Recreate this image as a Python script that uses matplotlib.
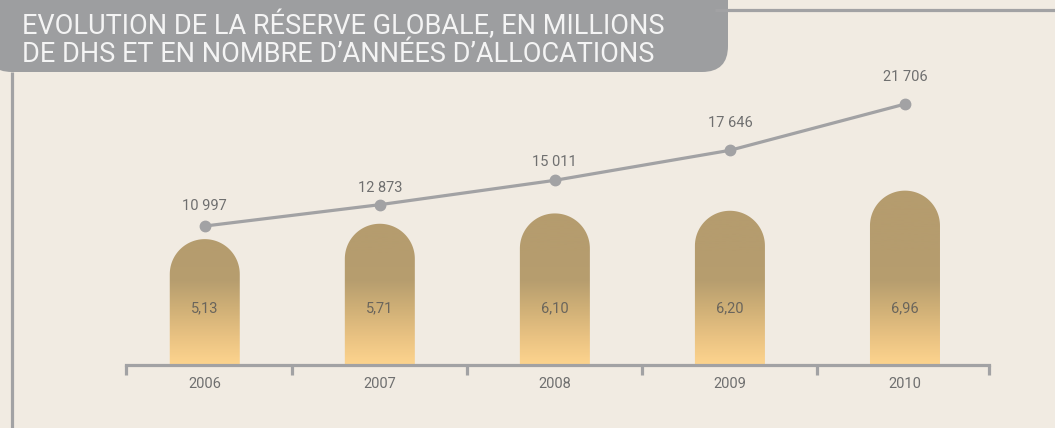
import numpy as np
from matplotlib import pyplot as plt
from matplotlib.colors import LinearSegmentedColormap
from matplotlib.patches import Polygon, FancyBboxPatch
from matplotlib.transforms import blended_transform_factory

years = ['2006', '2007', '2008', '2009', '2010']
reserve = [10997, 12873, 15011, 17646, 21706]      # millions de DHS (ligne)
annees = [5.13, 5.71, 6.10, 6.20, 6.96]            # nombre d'annees d'allocations (barres)
title = "EVOLUTION DE LA RÉSERVE GLOBALE, EN MILLIONS\nDE DHS ET EN NOMBRE D’ANNÉES D’ALLOCATIONS"

bg = '#f1ebe2'
grey = '#a2a2a4'
txt = '#6f6f6f'
plt.rcParams['font.family'] = ['Roboto', 'DejaVu Sans']

W, H = 1055, 428
fig = plt.figure(figsize=(W / 100, H / 100), dpi=100, facecolor=bg)

# decoration layer in pixel coords
deco = fig.add_axes([0, 0, 1, 1])
deco.set_xlim(0, W)
deco.set_ylim(H, 0)
deco.axis('off')
deco.add_patch(FancyBboxPatch((-14, -40), 742, 112, boxstyle='round,pad=0,rounding_size=26',
                              fc='#9d9ea0', ec='none'))
deco.plot([715, W], [9.5, 9.5], color=grey, lw=2.3, solid_capstyle='butt')
deco.plot([12, 12], [72, H], color=grey, lw=2.3, solid_capstyle='butt')
deco.text(22, 39, title, color='#f4f4f4', fontsize=19.5,
          va='center', ha='left', linespacing=1.05)

# bar axes (annees)
x = np.arange(len(years))
y0, pxu = 0.38, 26.5
ax = fig.add_axes([126 / W, 63 / H, 863 / W, 365 / H])
ax.set_facecolor('none')
ax.set_xlim(-0.45, 4.48)
ax.set_ylim(y0, y0 + 365 / pxu)
xpx = 863 / 4.93
half = 35 / xpx
ry = 35 / pxu

cmap = LinearSegmentedColormap.from_list('g', ['#fdd48e', '#e9c282', '#d0b077', '#b79e6f', '#b59c6e'])
yy = np.linspace(y0, y0 + 365 / pxu, 400)
grad = np.clip((yy - y0) / (4.6 - y0), 0, 1)[:, None]

for xi, v in zip(x, annees):
    t = np.linspace(0, np.pi, 60)
    arc = np.column_stack([xi + half * np.cos(t), v - ry + ry * np.sin(t)])
    pts = np.vstack([[xi + half, 0], arc, [xi - half, 0]])
    poly = Polygon(pts, closed=True, fc='none', ec='none')
    ax.add_patch(poly)
    im = ax.imshow(grad, cmap=cmap, origin='lower', aspect='auto', vmin=0, vmax=1,
                   extent=[-0.45, 4.48, yy[0], yy[-1]], zorder=1)
    im.set_clip_path(poly)

tr = blended_transform_factory(ax.transData, fig.transFigure)
for xi, v in zip(x, annees):
    ax.text(xi, (H - 308) / H, f"{v:.2f}".replace('.', ','), transform=tr,
            ha='center', va='center', fontsize=10.5, color='#6a655c', zorder=3)

for s in ['top', 'right', 'left']:
    ax.spines[s].set_visible(False)
ax.spines['bottom'].set_color(grey)
ax.spines['bottom'].set_linewidth(2.3)
ax.set_yticks([])
ax.set_xticks([-0.45, 0.5, 1.5, 2.5, 3.5, 4.48])
ax.set_xticklabels([])
ax.tick_params(axis='x', which='major', length=7.5, width=2.3, color=grey)
ax.set_xticks(x, minor=True)
ax.set_xticklabels(years, minor=True)
ax.tick_params(axis='x', which='minor', length=0, pad=9, labelsize=10.5, labelcolor=txt)

# line axes (reserve globale)
ax2 = ax.twinx()
ax2.set_ylim(-1203, 30843)
ax2.axis('off')
ax2.plot(x, reserve, color=grey, lw=2.3, marker='o', ms=7.5, zorder=4)
offs = [20, 17, 18, 27, 27]
for xi, v, o in zip(x, reserve, offs):
    ax2.annotate(f"{v:,}".replace(',', ' '), (xi, v), xytext=(0, o * 0.72),
                 textcoords='offset points', ha='center', va='center',
                 fontsize=10.5, color=txt)

fig.savefig('out.png', dpi=100, facecolor=bg)
